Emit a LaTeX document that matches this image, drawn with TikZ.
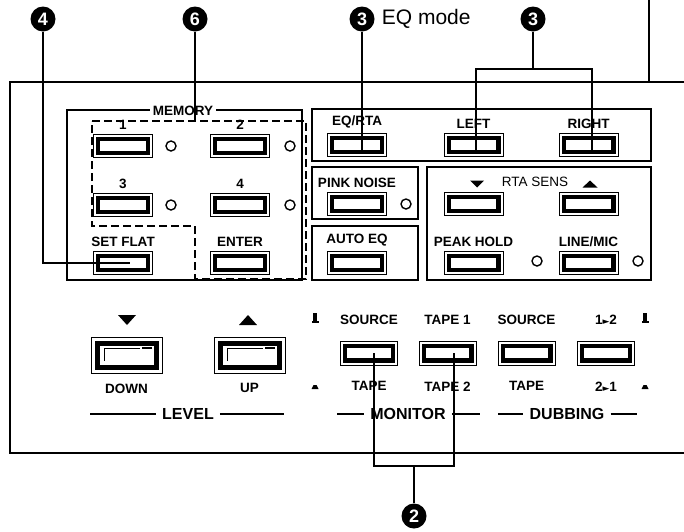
\documentclass[tikz,border=0pt]{standalone}
\usepackage{fontspec}
\setmainfont{Liberation Sans}
\newfontfamily\symfont{DejaVu Sans}
\usetikzlibrary{shapes,calc,positioning}

\begin{document}
\begin{tikzpicture}[x=1pt,y=-1pt,
	  every node/.style={align=center,inner sep=0pt},
	  lbl/.style={font=\fontsize{13.5}{14}\selectfont\bfseries},
	  grplbl/.style={font=\fontsize{16}{17}\selectfont\bfseries,inner xsep=6pt},
	  button/.style={draw,line width=0.8pt,minimum width=59pt,minimum height=23pt,
	    path picture={\draw[line width=4.2pt] ([shift={(4.6pt,4.6pt)}]path picture bounding box.south west) rectangle ([shift={(-4.6pt,-4.6pt)}]path picture bounding box.north east);}},
	  bigbutton/.style={draw,line width=0.9pt,minimum width=71pt,minimum height=36pt,
	    path picture={\draw[line width=5pt] ([shift={(6pt,6pt)}]path picture bounding box.south west) rectangle ([shift={(-6pt,-6pt)}]path picture bounding box.north east);
	      \draw[line width=0.6pt] ([shift={(13pt,12pt)}]path picture bounding box.south west) -- ++(0pt,13pt) -- ++(36pt,0pt);
	      \draw[line width=1.2pt] ([shift={(51pt,25pt)}]path picture bounding box.south west) -- ++(10pt,0pt);}},
	  led/.style={circle,draw,line width=1.4pt,minimum size=10pt},
	  numdot/.style={circle,fill=black,text=white,minimum size=25pt,font=\fontsize{18}{18}\selectfont\bfseries},
	  lead/.style={line width=1.7pt},
	  groupbox/.style={line width=1.3pt}]

	  \useasboundingbox (0,0) rectangle (684,531);

	  % front panel, open to the right
	  \coordinate (pNW) at (10,82);
	  \coordinate (pSW) at (10,453);
	  \draw[line width=1.5pt] (684,82) -- (pNW) -- (pSW) -- (684,453);

	  % group boxes
	  \draw[groupbox] (67,110) rectangle (302,280);
	  \draw[groupbox] (312,109) rectangle (651,161);
	  \draw[groupbox] (312,167) rectangle (418,219);
	  \draw[groupbox] (312,226) rectangle (418,280);
	  \draw[groupbox] (427,167) rectangle (651,280);
	  \node[lbl,fill=white,inner xsep=3pt] (memlbl) at (183,111) {MEMORY};
	  \coordinate (dashNW) at (92,121);
	  \draw[line width=2.2pt,dash pattern=on 8pt off 4pt] (dashNW) -- (306,121) -- (306,279) -- (195,279) -- (195,226) -- (92,226) -- cycle;

	  % push buttons
	  \node[button] (mem1) at (123,146) {};
	  \node[button] (mem2) at (240,146) {};
	  \node[button] (mem3) at (123,205) {};
	  \node[button] (mem4) at (240,205) {};
	  \node[button] (setflat) at (123,263) {};
	  \node[button] (enter) at (240,263) {};
	  \node[button] (eqrta) at (357,145) {};
	  \node[button] (left) at (473.5,145) {};
	  \node[button] (right) at (588.5,145) {};
	  \node[button] (pink) at (357,204) {};
	  \node[button] (autoeq) at (357,263) {};
	  \node[button] (sensdn) at (473.5,204) {};
	  \node[button] (sensup) at (588.5,204) {};
	  \node[button] (peak) at (473.5,263) {};
	  \node[button] (linemic) at (588.5,263) {};
	  \node[button,minimum width=57pt,minimum height=24pt] (monsrc) at (369,353) {};
	  \node[button,minimum width=57pt,minimum height=24pt] (montape) at (447.5,353) {};
	  \node[button,minimum width=57pt,minimum height=24pt] (dubsrc) at (526.5,353) {};
	  \node[button,minimum width=57pt,minimum height=24pt] (dubdir) at (606,353) {};
	  \node[bigbutton] (down) at (126.5,355) {};
	  \node[bigbutton] (up) at (249.5,355) {};

	  % indicator lamps
	  \node[led] (led1) at (171,146) {};
	  \node[led] (led2) at (290,146) {};
	  \node[led] (led3) at (171,205) {};
	  \node[led] (led4) at (290,205) {};
	  \node[led] (ledpink) at (406,204) {};
	  \node[led] (ledpeak) at (537,261) {};
	  \node[led] (ledline) at (638,261) {};

	  % button legends
	  \foreach \b/\t in {mem1/1,mem2/2,mem3/3,mem4/4,setflat/SET FLAT,enter/ENTER,eqrta/{EQ/RTA},left/LEFT,right/RIGHT,pink/PINK NOISE,autoeq/AUTO EQ,peak/PEAK HOLD,linemic/{LINE/MIC}}
	    \node[lbl,above=4.5pt of \b] (\b-l) {\t};
	  \node[font=\fontsize{13.5}{14}\selectfont] (sens) at (535,182) {RTA SENS};
	  \node[lbl,above=16pt of monsrc] (monsrc-t) {SOURCE};
	  \node[lbl,above=16pt of montape] (montape-t) {TAPE 1};
	  \node[lbl,above=16pt of dubsrc] (dubsrc-t) {SOURCE};
	  \node[lbl,above=16pt of dubdir] (dubdir-t) {1{\symfont\fontsize{9}{9}\selectfont ►}2};
	  \node[lbl,below=16pt of monsrc] (monsrc-b) {TAPE};
	  \node[lbl,below=16pt of montape] (montape-b) {TAPE 2};
	  \node[lbl,below=16pt of dubsrc] (dubsrc-b) {TAPE};
	  \node[lbl,below=16pt of dubdir] (dubdir-b) {2{\symfont\fontsize{9}{9}\selectfont ►}1};
	  \node[lbl,below=10pt of down] (down-l) {DOWN};
	  \node[lbl,below=10pt of up] (up-l) {UP};

	  % arrow marks and latch symbols
	  \foreach \cx/\cy/\w/\h in {127/320/9/5,248/320/9/-5,477/184/7/3.5,590/184/7.5/-3.5}
	    \fill ({\cx-\w},{\cy-(\h)}) -- ({\cx+\w},{\cy-(\h)}) -- (\cx,{\cy+\h}) -- cycle;
	  \foreach \mx in {315,645} {
	    \fill ({\mx-2},313) rectangle ({\mx+2},322);
	    \fill ({\mx-3.5},321) rectangle ({\mx+3.5},323);
	    \fill ({\mx-3.5},389) -- ({\mx+3.5},389) -- ({\mx+1.5},385) -- ({\mx-1.5},385) -- cycle;
	  }

	  % group legends with rules
	  \node[grplbl] (level) at (188,414) {LEVEL};
	  \draw[line width=1.1pt] (90,414) -- (level.west) (level.east) -- (284,414);
	  \node[grplbl] (monitor) at (408,414) {MONITOR};
	  \draw[line width=1.1pt] (337,414) -- (monitor.west) (monitor.east) -- (480,414);
	  \node[grplbl] (dubbing) at (567,414) {DUBBING};
	  \draw[line width=1.1pt] (498,414) -- (dubbing.west) (dubbing.east) -- (637,414);

	  % numbered callouts
	  \node[numdot] (c4) at (43,19) {4};
	  \node[numdot] (c6) at (195,19) {6};
	  \node[numdot] (c3a) at (362,19) {3};
	  \node[numdot] (c3b) at (533,19) {3};
	  \node[numdot] (c2) at (414,516) {2};
	  \node[font=\fontsize{21}{22}\selectfont,right=7pt of c3a] (eqmode) {EQ mode};

	  % leader lines
	  \draw[lead] (c4) |- ([xshift=7pt]setflat.center);
	  \draw[lead] (c6) -- (c6 |- dashNW);
	  \draw[lead] (c3a) -- ($(c3a |- eqrta.center)+(0,5)$);
	  \coordinate (brL) at (476,69);
	  \coordinate (brR) at (592,69);
	  \draw[lead] (c3b) -- (c3b |- brL);
	  \draw[lead] ($(brL |- left.center)+(0,5)$) -- (brL) -- (brR) -- ($(brR |- right.center)+(0,5)$);
	  \coordinate (brA) at (374,466);
	  \coordinate (brB) at (454,466);
	  \draw[lead] (brA |- monsrc.center) -- (brA) -- (brB) -- (brB |- montape.center);
	  \draw[lead] (c2) -- (c2 |- brA);
	  \coordinate (topend) at (649,0);
	  \draw[lead] (topend) -- (topend |- pNW);
\end{tikzpicture}
\end{document}
